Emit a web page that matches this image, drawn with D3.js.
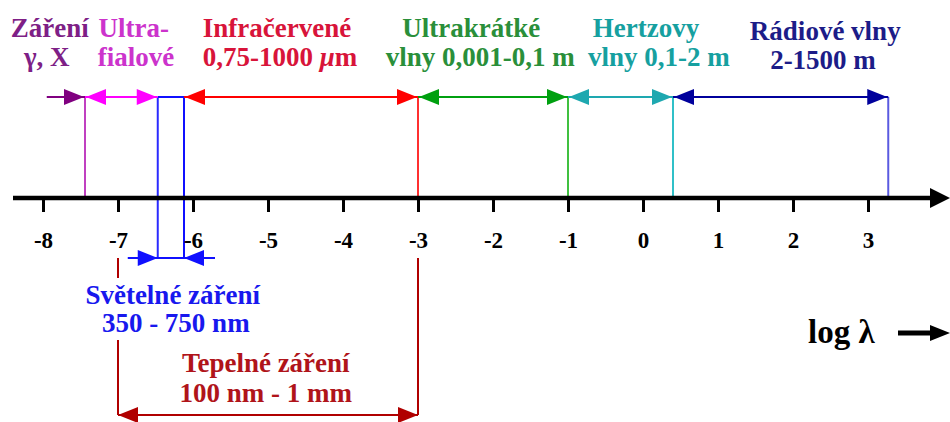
<!DOCTYPE html>
<html>
<head>
<meta charset="utf-8">
<script src="https://cdn.jsdelivr.net/npm/d3@7"></script>
<style>
  body { margin: 0; background: #fff; }
  svg { display: block; }
</style>
</head>
<body>
<svg width="950" height="422"></svg>
<script>
// values (log10 of wavelength in metres)
const ticks = [-8, -7, -6, -5, -4, -3, -2, -1, 0, 1, 2, 3];
const bandFrom = [-7.95, -7.44, -6.12, -3, -1, 0.4];
const bandTo = [-7.44, -6.47, -3, -1, 0.4, 3.27];
const bandHeads = ["end", "both", "both", "both", "both", "both"];
const bandLine1 = ["Záření", "Ultra-", "Infračervené", "Ultrakrátké", "Hertzovy", "Rádiové vlny"];
const bandLine2 = ["γ, X", "fialové", "0,75-1000 μm", "vlny 0,001-0,1 m", "vlny 0,1-2 m", "2-1500 m"];
const lightRange = [-6.47, -6.12];
const lightLabel = ["Světelné záření", "350 - 750 nm"];
const heatRange = [-7, -3];
const heatLabel = ["Tepelné záření", "100 nm - 1 mm"];
const axisTitle = "log λ";

// layout + colours
const serif = '"Liberation Serif"';
const labelAt1 = [-7.91, -6.79, -4.88, -2.29, 0.04, 2.43];
const labelAt2 = [-7.95, -6.76, -4.84, -2.17, 0.21, 2.40];
const arrowColor = ["#800080", "#ff00ff", "#ff0000", "#00a010", "#1ea8b0", "#00009c"];
const edgeColor = ["#c040c0", "#2a2aff", "#ff3030", "#40c040", "#30c0c8", "#5a5ae0"];
const textColor = ["#7e1f86", "#cc33cc", "#d8143a", "#2a8f3a", "#16a0a0", "#1c1c88"];
const lightColor = "#1010ff";
const lightText = "#1818ee";
const heatColor = "#b00000";
const heatText = "#b0141a";

const svg = d3.select("svg"),
  W = +svg.attr("width"),
  axisY = 198,
  arrowY = 97,
  lightY = 258,
  heatY = 415,
  headL = 20,
  headH = 8;

const x = d3.scaleLinear().domain([-8, 3]).range([43, 868]);

const head = (g, xt, y, dir, color, l = headL, h = headH) => {
  g.append("path")
    .attr("d", `M${xt},${y}L${xt - dir * l},${y - h}L${xt - dir * l},${y + h}Z`)
    .attr("fill", color);
};

const label = (g, px, py, str, color, size = 27) => {
  const t = g.append("text").attr("x", px).attr("y", py)
    .attr("text-anchor", "middle").attr("fill", color)
    .attr("font-family", serif).attr("font-weight", "bold")
    .attr("font-size", size);
  // italic micro sign
  str.split(/(μ)/).forEach(part => {
    if (!part) return;
    t.append("tspan").text(part).attr("font-style", part === "μ" ? "italic" : null);
  });
  return t;
};

// boundary verticals
const edges = svg.append("g");
bandTo.forEach((v, i) => {
  edges.append("line")
    .attr("x1", x(v)).attr("x2", x(v))
    .attr("y1", arrowY).attr("y2", i === 1 ? lightY : axisY)
    .attr("stroke", edgeColor[i]).attr("stroke-width", 2);
});
edges.append("line")
  .attr("x1", x(lightRange[1])).attr("x2", x(lightRange[1]))
  .attr("y1", arrowY).attr("y2", lightY)
  .attr("stroke", lightColor).attr("stroke-width", 2);
edges.append("line")
  .attr("x1", x(lightRange[0])).attr("x2", x(lightRange[1]))
  .attr("y1", arrowY).attr("y2", arrowY)
  .attr("stroke", lightColor).attr("stroke-width", 2);

// heat verticals
heatRange.forEach(v => {
  edges.append("line")
    .attr("x1", x(v)).attr("x2", x(v))
    .attr("y1", lightY).attr("y2", heatY)
    .attr("stroke", heatColor).attr("stroke-width", 2);
});

// axis
const axis = svg.append("g").attr("transform", `translate(0,${axisY})`)
  .call(d3.axisBottom(x).tickValues(ticks).tickSize(14).tickSizeOuter(0).tickPadding(20)
    .tickFormat(d => d < 0 ? "-" + Math.abs(d) : d));
axis.attr("font-family", serif).attr("font-size", 23).attr("font-weight", "bold");
axis.select(".domain").remove();
axis.selectAll(".tick line").attr("stroke", "#000").attr("stroke-width", 3);
axis.selectAll(".tick text").attr("fill", "#000");

svg.append("line")
  .attr("x1", 13).attr("x2", W - 18)
  .attr("y1", axisY).attr("y2", axisY)
  .attr("stroke", "#000").attr("stroke-width", 4.5);
head(svg, W, axisY, 1, "#000", 20, 10);

// band arrows
const bands = svg.append("g");
bandFrom.forEach((v, i) => {
  bands.append("line")
    .attr("x1", x(v)).attr("x2", x(bandTo[i]))
    .attr("y1", arrowY).attr("y2", arrowY)
    .attr("stroke", arrowColor[i]).attr("stroke-width", 2);
  if (bandHeads[i] === "both") head(bands, x(v) + 1, arrowY, -1, arrowColor[i]);
  head(bands, x(bandTo[i]) - 1, arrowY, 1, arrowColor[i]);
});

// band labels
bandLine1.forEach((t, i) => {
  const low = i === 5 ? 3 : 0;
  label(bands, x(labelAt1[i]), 37 + low, t, textColor[i]);
  label(bands, x(labelAt2[i]), 66 + low, bandLine2[i], textColor[i]);
});

// visible light
const light = svg.append("g");
light.append("line")
  .attr("x1", x(lightRange[0]) - 30).attr("x2", x(lightRange[1]) + 31)
  .attr("y1", lightY).attr("y2", lightY)
  .attr("stroke", lightColor).attr("stroke-width", 2);
head(light, x(lightRange[0]), lightY, 1, lightColor);
head(light, x(lightRange[1]), lightY, -1, lightColor);

const lightG = light.append("g");
const lx = x(-6.27);
label(lightG, lx, 304, lightLabel[0], lightText);
label(lightG, lx + 3, 332, lightLabel[1], lightText);
const bb = lightG.node().getBBox();
lightG.insert("rect", ":first-child")
  .attr("x", bb.x - 2).attr("y", bb.y - 2)
  .attr("width", bb.width + 4).attr("height", bb.height + 4)
  .attr("fill", "#fff");

// heat
const heat = svg.append("g");
heat.append("line")
  .attr("x1", x(heatRange[0])).attr("x2", x(heatRange[1]))
  .attr("y1", heatY).attr("y2", heatY)
  .attr("stroke", heatColor).attr("stroke-width", 2);
head(heat, x(heatRange[0]), heatY, -1, heatColor);
head(heat, x(heatRange[1]), heatY, 1, heatColor);
const hx = x(-5.03);
label(heat, hx, 372, heatLabel[0], heatText);
label(heat, hx, 402, heatLabel[1], heatText);

// axis title
svg.append("text").attr("x", 808).attr("y", 343)
  .attr("fill", "#000").attr("font-family", serif).attr("font-weight", "bold")
  .attr("font-size", 33).text(axisTitle);
svg.append("line")
  .attr("x1", 898).attr("x2", 932)
  .attr("y1", 333).attr("y2", 333)
  .attr("stroke", "#000").attr("stroke-width", 5);
head(svg, W, 333, 1, "#000", 20, 8);
</script>
</body>
</html>
